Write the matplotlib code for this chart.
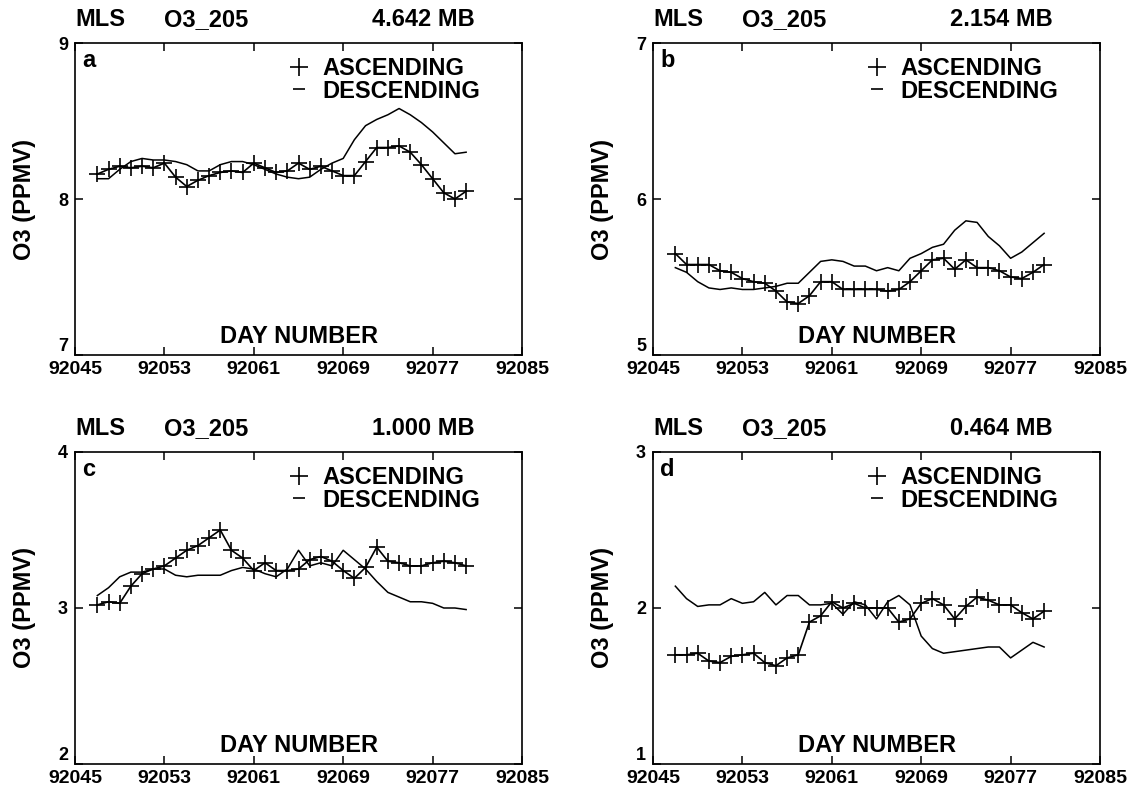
import matplotlib
matplotlib.use('Agg')
import matplotlib.pyplot as plt
from matplotlib.lines import Line2D
import numpy as np

plt.rcParams['font.family'] = ['Liberation Sans', 'DejaVu Sans']
plt.rcParams['font.weight'] = 'bold'

# day numbers 92047 .. 92080, one sample per day
days = np.arange(92047, 92081)

asc_a = [8.16, 8.19, 8.21, 8.20, 8.21, 8.20, 8.23, 8.14, 8.08, 8.12, 8.15, 8.17,
         8.18, 8.17, 8.23, 8.20, 8.17, 8.18, 8.23, 8.19, 8.21, 8.18, 8.15, 8.15,
         8.24, 8.33, 8.33, 8.34, 8.30, 8.22, 8.13, 8.04, 8.00, 8.05]
desc_a = [8.13, 8.13, 8.19, 8.24, 8.26, 8.25, 8.25, 8.24, 8.22, 8.18, 8.18, 8.22,
          8.24, 8.24, 8.22, 8.19, 8.16, 8.14, 8.13, 8.14, 8.19, 8.23, 8.26, 8.38,
          8.47, 8.51, 8.54, 8.58, 8.54, 8.49, 8.43, 8.36, 8.29, 8.30]

asc_b = [5.65, 5.58, 5.58, 5.58, 5.54, 5.53, 5.49, 5.47, 5.46, 5.41, 5.34, 5.33,
         5.38, 5.47, 5.47, 5.42, 5.42, 5.42, 5.42, 5.41, 5.42, 5.47, 5.54, 5.61,
         5.62, 5.55, 5.61, 5.56, 5.56, 5.54, 5.50, 5.49, 5.53, 5.58]
desc_b = [5.56, 5.53, 5.47, 5.43, 5.42, 5.43, 5.42, 5.42, 5.43, 5.44, 5.46, 5.46,
          5.53, 5.60, 5.61, 5.60, 5.57, 5.57, 5.54, 5.56, 5.54, 5.62, 5.65, 5.69,
          5.71, 5.80, 5.86, 5.85, 5.76, 5.70, 5.62, 5.66, 5.72, 5.78]

asc_c = [3.02, 3.04, 3.03, 3.14, 3.22, 3.25, 3.27, 3.32, 3.37, 3.40, 3.45, 3.50,
         3.37, 3.32, 3.24, 3.29, 3.24, 3.24, 3.25, 3.31, 3.33, 3.30, 3.24, 3.19,
         3.26, 3.39, 3.30, 3.29, 3.27, 3.27, 3.29, 3.30, 3.29, 3.27]
desc_c = [3.08, 3.13, 3.20, 3.23, 3.23, 3.25, 3.25, 3.21, 3.20, 3.21, 3.21, 3.21,
          3.24, 3.26, 3.25, 3.22, 3.20, 3.25, 3.37, 3.27, 3.29, 3.27, 3.37, 3.31,
          3.25, 3.17, 3.10, 3.07, 3.04, 3.04, 3.03, 3.00, 3.00, 2.99]

asc_d = [1.70, 1.70, 1.71, 1.66, 1.65, 1.69, 1.70, 1.71, 1.65, 1.63, 1.68, 1.70,
         1.91, 1.95, 2.04, 2.00, 2.03, 2.00, 2.00, 2.00, 1.91, 1.93, 2.03, 2.06,
         2.02, 1.93, 2.01, 2.07, 2.05, 2.02, 2.02, 1.97, 1.93, 1.98]
desc_d = [2.14, 2.06, 2.01, 2.02, 2.02, 2.06, 2.03, 2.04, 2.10, 2.02, 2.08, 2.08,
          2.02, 2.02, 2.03, 1.96, 2.04, 2.02, 1.93, 2.04, 2.08, 2.02, 1.82, 1.74,
          1.71, 1.72, 1.73, 1.74, 1.75, 1.75, 1.68, 1.73, 1.78, 1.75]

panels = [
    ('a', '4.642 MB', asc_a, desc_a, (7, 9)),
    ('b', '2.154 MB', asc_b, desc_b, (5, 7)),
    ('c', '1.000 MB', asc_c, desc_c, (2, 4)),
    ('d', '0.464 MB', asc_d, desc_d, (1, 3)),
]

xticks = np.arange(92045, 92086, 8)

fig = plt.figure(figsize=(11.35, 7.92), dpi=100)
fig.patch.set_facecolor('white')

# axes boxes in pixels (left, top), common size
W, H = 1135.0, 792.0
boxes = [(75, 43), (653, 43), (75, 452), (653, 452)]
aw, ah = 447, 312

for (lab, pres, asc, desc, ylim), (x0, y0) in zip(panels, boxes):
    ax = fig.add_axes([x0 / W, 1 - (y0 + ah) / H, aw / W, ah / H])
    ax.plot(days, asc, color='black', lw=1.2, marker='+', ms=11, mew=1.2)
    ax.plot(days, desc, color='black', lw=1.1)

    ax.set_xlim(92045, 92085)
    ax.set_ylim(*ylim)
    ax.set_xticks(xticks)
    ax.set_xticklabels([str(t) for t in xticks])
    yt = np.arange(ylim[0], ylim[1] + 1)
    ax.set_yticks(yt)
    ax.set_yticklabels([str(v) for v in yt])
    ax.tick_params(direction='in', top=True, right=True, length=6, width=1.1)
    ax.tick_params(axis='x', labelsize=14, pad=4.5)
    ax.tick_params(axis='y', labelsize=13, pad=5)
    ax.get_yticklabels()[0].set_va('bottom')
    for s in ax.spines.values():
        s.set_linewidth(1.2)

    ax.set_ylabel('O3 (PPMV)', fontsize=17, fontweight='bold', labelpad=16)
    ax.text(0.5, 0.04, 'DAY NUMBER', transform=ax.transAxes, ha='center',
            va='baseline', fontsize=17, fontweight='bold')
    ax.text(0.016, 0.923, lab, transform=ax.transAxes, ha='left', va='baseline',
            fontsize=17, fontweight='bold')

    # header row
    ty = 1.053
    ax.text(0.0, ty, 'MLS', transform=ax.transAxes, ha='left', va='baseline',
            fontsize=17, fontweight='bold')
    ax.text(0.199, ty, 'O3_205', transform=ax.transAxes, ha='left', va='baseline',
            fontsize=17, fontweight='bold')
    ax.text(0.664, ty, pres, transform=ax.transAxes, ha='left', va='baseline',
            fontsize=17, fontweight='bold')

    handles = [
        Line2D([0], [0], color='black', lw=0, marker='+', ms=13, mew=1.2, label='ASCENDING'),
        Line2D([0], [0], color='black', lw=0, marker='_', ms=8, mew=1.2, label='DESCENDING'),
    ]
    ax.legend(handles=handles, loc='upper left', bbox_to_anchor=(0.48, 0.955),
              frameon=False, handlelength=0.8, handletextpad=0.6, labelspacing=-0.02,
              borderpad=0, borderaxespad=0, prop={'size': 17, 'weight': 'bold'})

fig.savefig('out.png', dpi=100, facecolor='white')
